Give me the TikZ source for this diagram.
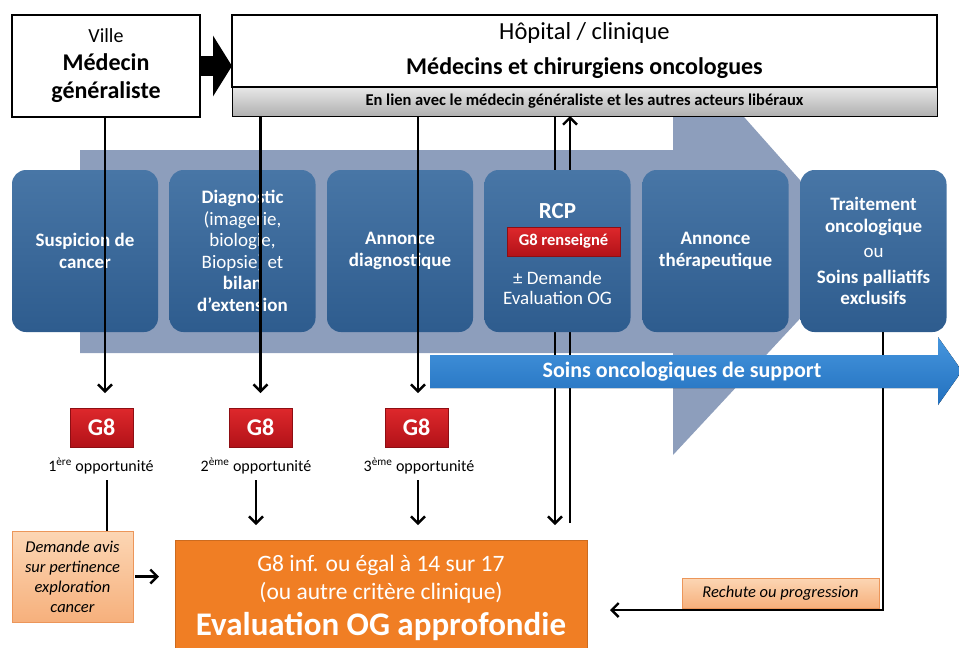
\documentclass[tikz,border=0pt]{standalone}
\usepackage{fontspec}
\setmainfont{Carlito}
\usetikzlibrary{arrows.meta,positioning,calc}

\definecolor{fondfleche}{RGB}{141,158,188}
\definecolor{etapehaut}{RGB}{72,118,166}
\definecolor{etapebas}{RGB}{46,92,142}
\definecolor{rougehaut}{RGB}{222,40,44}
\definecolor{rougebas}{RGB}{178,18,24}
\definecolor{orangeog}{RGB}{240,126,36}
\definecolor{notehaut}{RGB}{252,214,180}
\definecolor{notebas}{RGB}{246,176,124}
\definecolor{notebord}{RGB}{236,150,90}
\definecolor{supporthaut}{RGB}{70,150,222}
\definecolor{supportbas}{RGB}{34,112,190}
\definecolor{bandehaut}{RGB}{232,232,232}
\definecolor{bandebas}{RGB}{176,176,176}

\pgfdeclarelayer{fond}
\pgfdeclarelayer{dessous}
\pgfsetlayers{fond,dessous,main}

\begin{document}
\begin{tikzpicture}[x=1pt,y=-1pt,
    every node/.style={inner sep=0pt,outer sep=0pt},
    cadre/.style={draw,line width=2pt,fill=white,align=center},
    etape/.style={rounded corners=14pt,minimum width=146pt,minimum height=162pt,top color=etapehaut,bottom color=etapebas,text=white,align=center,font=\fontsize{19}{21.5}\selectfont\bfseries},
    gbox/.style={draw=rougebas!80!black,top color=rougehaut,bottom color=rougebas,text=white,minimum width=63pt,minimum height=39pt,font=\fontsize{24}{26}\selectfont\bfseries},
    opp/.style={font=\fontsize{16}{17}\selectfont},
    note/.style={draw=notebord,top color=notehaut,bottom color=notebas,align=center,font=\fontsize{16.5}{20}\selectfont\itshape},
    arrow/.style={-{Straight Barb[length=7pt,width=14pt]},line width=2.4pt},
    trait/.style={line width=2.4pt}
  ]
  \useasboundingbox (0,0) rectangle (959,648);

  % fleche du parcours
  \begin{pgfonlayer}{fond}
    \fill[fondfleche] (80,150) -- (673,150) -- (673,37) -- (863,251) -- (673,455) -- (673,353) -- (80,353) -- cycle;
  \end{pgfonlayer}

  % acteurs
  \node[cadre,minimum width=188pt,minimum height=102pt,font=\fontsize{24}{28}\selectfont\bfseries] (ville) at (106,66)
    {{\fontsize{20}{24}\mdseries\selectfont Ville}\\Médecin\\généraliste};
  \node[cadre,minimum width=705pt,minimum height=72pt,font=\fontsize{24}{35}\selectfont\bfseries] (hopital) at (584.5,51)
    {{\fontsize{24.5}{26}\mdseries\selectfont Hôpital / clinique}\\Médecins et chirurgiens oncologues};
  \node[draw,line width=1pt,top color=bandehaut,bottom color=bandebas,minimum width=705pt,minimum height=29pt,font=\fontsize{16.5}{18}\selectfont\bfseries] (lien) at (584.5,101.5)
    {En lien avec le médecin généraliste et les autres acteurs libéraux};
  \draw[-{Triangle[length=19pt,width=60pt]},line width=20pt] (ville.east) -- (ville.east -| hopital.west);

  % etapes
  \node[etape] (suspicion) at (85,251) {Suspicion de\\cancer};
  \node[etape] (diagnostic) at (242.5,251) {Diagnostic\\\mdseries(imagerie,\\\mdseries biologie,\\\mdseries Biopsie) et\\bilan\\d’extension};
  \node[etape] (annonce) at (400,251) {Annonce\\diagnostique};
  \node[etape] (rcp) at (557.5,251) {};
  \node[etape] (therap) at (715.5,251) {Annonce\\thérapeutique};
  \node[etape] (traitement) at (873.5,251) {Traitement\\oncologique\\[4pt]\mdseries ou\\[4pt]Soins palliatifs\\exclusifs};
  \node[text=white,font=\fontsize{23}{26}\selectfont\bfseries] (rcptitre) at (557.5,211) {RCP};
  \node[gbox,minimum width=113pt,minimum height=29pt,font=\fontsize{16.5}{18}\selectfont\bfseries] (g8rcp) at (563.5,241.5) {G8 renseigné};
  \node[text=white,align=center,font=\fontsize{19}{20}\selectfont] (demandeog) at (557.5,288) {± Demande\\Evaluation OG};

  % G8
  \node[gbox] (g8a) at (101.5,427.5) {G8};
  \node[gbox] (g8b) at (260.5,427.5) {G8};
  \node[gbox] (g8c) at (416.5,427.5) {G8};
  \node[opp] (opp1) at (101,466) {1\textsuperscript{ère} opportunité};
  \node[opp] (opp2) at (256,466) {2\textsuperscript{ème} opportunité};
  \node[opp] (opp3) at (419,466) {3\textsuperscript{ème} opportunité};

  % evaluation
  \node[fill=orangeog,draw=orangeog!85!black,minimum width=412pt,minimum height=116pt,text=white,align=center,font=\fontsize{23.5}{28}\selectfont] (evalog) at (381,598)
    {G8 inf. ou égal à 14 sur 17\\(ou autre critère clinique)\\[8pt]{\fontsize{33}{34}\selectfont\bfseries Evaluation OG approfondie}};
  \node[note,minimum width=121pt,minimum height=91pt] (demande) at (72.5,576.5) {Demande avis\\sur pertinence\\exploration\\cancer};
  \node[note,minimum width=197pt,minimum height=30pt] (rechute) at (780.5,593) {Rechute ou progression};

  \coordinate (rcpdown) at ([xshift=-2.5pt]rcp.north);
  \coordinate (rcpup) at ([xshift=12.5pt]rcp.north);
  \coordinate (retour) at (883,610);

  % liens
  \begin{pgfonlayer}{dessous}
    \draw[arrow,shorten >=15pt] (rcpdown |- lien.south) -- (rcpdown |- evalog.north);
    \draw[arrow,shorten <=17pt] (rcpup |- evalog.north) -- (rcpup |- lien.south);
  \end{pgfonlayer}
  \draw[arrow,shorten >=15pt] ([xshift=-1pt]ville.south) -- ([xshift=-1pt]ville.south |- g8a.north);
  \draw[arrow,shorten >=15pt] (lien.south -| g8b) -- (g8b.north);
  \draw[arrow,shorten >=15pt] ([xshift=1.5pt]lien.south -| g8c) -- ([xshift=1.5pt]g8c.north);
  \draw[trait,shorten <=6pt] ([xshift=6pt]opp1.south) -- ([xshift=6pt]opp1.south |- demande.north);
  \draw[arrow,shorten <=6pt,shorten >=15pt] (opp2.south) -- (opp2.south |- evalog.north);
  \draw[arrow,shorten <=6pt,shorten >=15pt] ([xshift=-1pt]opp3.south) -- ([xshift=-1pt]opp3.south |- evalog.north);
  \draw[arrow,shorten >=18pt] ([xshift=2pt]demande.east) -- ([xshift=2pt]demande.east -| evalog.west);
  \draw[arrow,shorten >=23pt] (traitement.south -| retour) -- (retour) -- (retour -| evalog.east);

  % soins de support
  \fill[top color=supporthaut,bottom color=supportbas] (430,355) -- (938,355) -- (938,337) -- (962,371) -- (938,405) -- (938,388) -- (430,388) -- cycle;
  \node[text=white,font=\fontsize{22}{24}\selectfont\bfseries] (support) at (682,372) {Soins oncologiques de support};
\end{tikzpicture}
\end{document}
